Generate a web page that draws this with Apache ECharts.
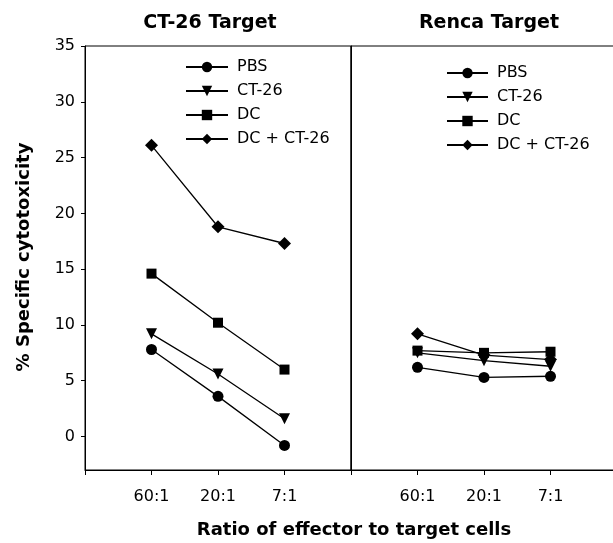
<!DOCTYPE html>
<html>
<head>
<meta charset="utf-8">
<script src="https://cdn.jsdelivr.net/npm/echarts@6/dist/echarts.min.js"></script>
<style>
html,body{margin:0;padding:0;background:#fff;}
#c{width:613px;height:543px;}
</style>
</head>
<body>
<div id="c"></div>
<script>
// ---- data ----
var categories = ['60:1', '20:1', '7:1'];
var seriesNames = ['PBS', 'CT-26', 'DC', 'DC + CT-26'];
var ct26_PBS = [7.8, 3.6, -0.8];
var ct26_CT26 = [9.2, 5.6, 1.6];
var ct26_DC = [14.6, 10.2, 6.0];
var ct26_DCCT26 = [26.1, 18.8, 17.3];
var renca_PBS = [6.2, 5.3, 5.4];
var renca_CT26 = [7.5, 6.8, 6.3];
var renca_DC = [7.7, 7.5, 7.6];
var renca_DCCT26 = [9.2, 7.3, 6.9];
var yTicks = [0, 5, 10, 15, 20, 25, 30, 35];
var panelTitles = ['CT-26 Target', 'Renca Target'];
var yTitle = '% Specific cytotoxicity';
var xTitle = 'Ratio of effector to target cells';

var FONT = '"DejaVu Sans", sans-serif';
var symbols = {
  'PBS': {symbol: 'circle', size: 11, rotate: 0},
  'CT-26': {symbol: 'triangle', size: 11, rotate: 180},
  'DC': {symbol: 'rect', size: 10, rotate: 0},
  'DC + CT-26': {symbol: 'diamond', size: 13, rotate: 0}
};
function toPts(arr) { return arr.map(function (v, i) { return [i + 1, v]; }); }
function mk(name, arr, idx) {
  var s = symbols[name];
  return {
    name: name, type: 'line', xAxisIndex: idx, yAxisIndex: idx,
    data: toPts(arr), symbol: s.symbol, symbolSize: s.size, symbolRotate: s.rotate,
    lineStyle: {color: '#000', width: 1.3}, itemStyle: {color: '#000'},
    animation: false, z: name === 'PBS' ? 5 : 3
  };
}
var series = [
  mk('PBS', ct26_PBS, 0), mk('CT-26', ct26_CT26, 0), mk('DC', ct26_DC, 0), mk('DC + CT-26', ct26_DCCT26, 0),
  mk('PBS', renca_PBS, 1), mk('CT-26', renca_CT26, 1), mk('DC', renca_DC, 1), mk('DC + CT-26', renca_DCCT26, 1)
];
function xAx(idx) {
  return {
    type: 'value', gridIndex: idx, min: 0, max: 4, interval: 1,
    axisLine: {show: true, onZero: false, lineStyle: {color: '#000', width: 1}},
    axisTick: {show: true, inside: false, length: 5, lineStyle: {color: '#000'}},
    axisLabel: {
      color: '#000', fontFamily: FONT, fontSize: 16, margin: 19,
      formatter: function (v) { return categories[v - 1] || ''; }
    },
    splitLine: {show: false}
  };
}
function yAx(idx, labels) {
  return {
    type: 'value', gridIndex: idx, min: -3, max: 35,
    axisLine: {show: true, onZero: false, lineStyle: {color: '#000', width: 1}},
    axisTick: {show: labels, inside: false, length: 4, customValues: yTicks, lineStyle: {color: '#000'}},
    axisLabel: {show: labels, customValues: yTicks, color: '#000', fontFamily: FONT, fontSize: 16, margin: 10},
    splitLine: {show: false}
  };
}
var chart = echarts.init(document.getElementById('c'));
chart.setOption({
  backgroundColor: '#fff',
  animation: false,
  grid: [
    {left: 85, top: 46, width: 266, bottom: 73, show: true, borderColor: '#000', borderWidth: 1, containLabel: false, outerBoundsMode: 'none'},
    {left: 351, top: 46, width: 266, bottom: 73, show: true, borderColor: '#000', borderWidth: 1, containLabel: false, outerBoundsMode: 'none'}
  ],
  xAxis: [xAx(0), xAx(1)],
  yAxis: [yAx(0, true), yAx(1, false)],
  legend: [
    {orient: 'vertical', left: 180, top: 54, itemWidth: 42, itemHeight: 13, itemGap: 8,
     data: seriesNames, textStyle: {color: '#000', fontFamily: FONT, fontSize: 16, padding: [0, 0, 0, 4]},
     selectedMode: false},
    {orient: 'vertical', left: 441, top: 60, itemWidth: 41, itemHeight: 13, itemGap: 8,
     data: seriesNames, textStyle: {color: '#000', fontFamily: FONT, fontSize: 16, padding: [0, 0, 0, 4]},
     selectedMode: false}
  ],
  graphic: [
    {type: 'text', x: 210, y: 23, style: {text: panelTitles[0], font: 'bold 19px ' + FONT, fill: '#000', textAlign: 'center', textVerticalAlign: 'middle'}},
    {type: 'text', x: 489, y: 23, style: {text: panelTitles[1], font: 'bold 19px ' + FONT, fill: '#000', textAlign: 'center', textVerticalAlign: 'middle'}},
    {type: 'text', x: 24, y: 257, rotation: Math.PI / 2, style: {text: yTitle, font: 'bold 18px ' + FONT, fill: '#000', textAlign: 'center', textVerticalAlign: 'middle'}},
    {type: 'text', x: 354, y: 530, style: {text: xTitle, font: 'bold 18px ' + FONT, fill: '#000', textAlign: 'center', textVerticalAlign: 'middle'}}
  ],
  series: series
});
</script>
</body>
</html>
